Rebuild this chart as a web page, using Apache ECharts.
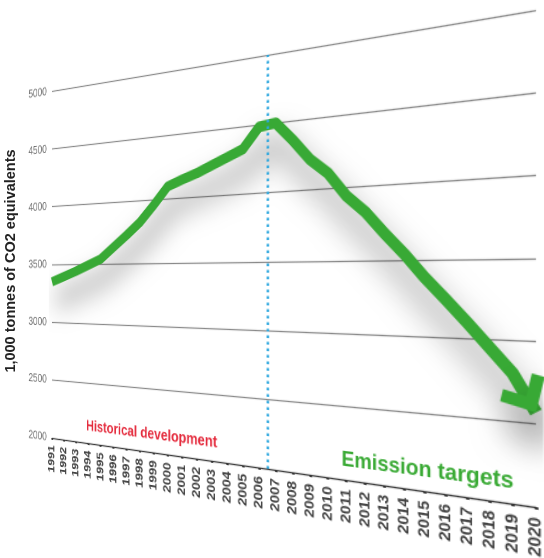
<!DOCTYPE html>
<html>
<head>
<meta charset="utf-8">
<script src="https://cdn.jsdelivr.net/npm/echarts@6/dist/echarts.min.js"></script>
<style>
  html, body { margin: 0; padding: 0; width: 544px; height: 558px; overflow: hidden; background: #fff; }
  #side { position: absolute; left: 0; top: 0; width: 544px; height: 558px; }
  #plane { position: absolute; left: 0; top: 0; width: 600px; height: 540px; transform-origin: 0 0; }
</style>
</head>
<body>
<div id="side"></div>
<div id="plane"></div>
<script>
// Annual emissions, 1,000 tonnes of CO2 equivalents (history up to 2007, targets afterwards)
const years = [1991, 1992, 1993, 1994, 1995, 1996, 1997, 1998, 1999, 2000,
               2001, 2002, 2003, 2004, 2005, 2006, 2007, 2008, 2009, 2010,
               2011, 2012, 2013, 2014, 2015, 2016, 2017, 2018, 2019, 2020];
const emissions = [3350, 3395, 3440, 3490, 3540, 3635, 3730, 3830, 3960, 4100,
                   4145, 4185, 4235, 4285, 4335, 4485, 4500, 4365, 4215, 4110,
                   3945, 3830, 3680, 3540, 3385, 3245, 3100, 2950, 2800, 2570];
const yTicks = [2000, 2500, 3000, 3500, 4000, 4500, 5000];
const splitYear = 2006.5;
const labels = [
  { name: 'Historical development', coord: [1998.6, 2140] },
  { name: 'Emission targets', coord: [2014.9, 2135] }
];
const yTitle = '1,000 tonnes of CO2 equivalents';

// Flat chart layout (before the perspective tilt)
const GRID = { left: 60, top: 30, width: 520, height: 380 };
// Where the grid corners land on the page after tilting
const SRC = [[GRID.left, GRID.top], [GRID.left + GRID.width, GRID.top],
             [GRID.left + GRID.width, GRID.top + GRID.height], [GRID.left, GRID.top + GRID.height]];
const DST = [[52, 91], [536, 10], [536, 507], [52, 438]];

function solveLinear(A, b) {
  const n = b.length;
  const M = A.map((row, i) => row.concat([b[i]]));
  for (let c = 0; c < n; c++) {
    let p = c;
    for (let r = c + 1; r < n; r++) if (Math.abs(M[r][c]) > Math.abs(M[p][c])) p = r;
    [M[c], M[p]] = [M[p], M[c]];
    for (let r = 0; r < n; r++) {
      if (r === c) continue;
      const f = M[r][c] / M[c][c];
      for (let k = c; k <= n; k++) M[r][k] -= f * M[c][k];
    }
  }
  return M.map((row, i) => row[n] / row[i]);
}

function perspectiveMatrix(src, dst) {
  const A = [], b = [];
  for (let i = 0; i < 4; i++) {
    const [x, y] = src[i], [X, Y] = dst[i];
    A.push([x, y, 1, 0, 0, 0, -X * x, -X * y]); b.push(X);
    A.push([0, 0, 0, x, y, 1, -Y * x, -Y * y]); b.push(Y);
  }
  const h = solveLinear(A, b);
  return 'matrix3d(' + [h[0], h[3], 0, h[6], h[1], h[4], 0, h[7], 0, 0, 1, 0, h[2], h[5], 0, 1].join(',') + ')';
}

document.getElementById('plane').style.transform = perspectiveMatrix(SRC, DST);

const GREEN = '#38a935';
const FONT = '"Liberation Sans", Arial, sans-serif';
const ARROW = 'path://M0,20 L20,0 L40,20 L33,27 L20,14 L7,27 Z';
const SHADOW = { shadowColor: 'rgba(0,0,0,0.55)', shadowBlur: 30, shadowOffsetX: 5, shadowOffsetY: 20 };

function buildOption(arrow) {
  const data = years.map((y, i) => [y, emissions[i]]);
  if (arrow) {
    const last = data.length - 1;
    data[last] = {
      value: data[last],
      symbol: ARROW,
      symbolSize: [40, 27],
      symbolKeepAspect: false,
      symbolRotate: arrow.rotate,
      symbolOffset: arrow.offset,
      itemStyle: Object.assign({ color: GREEN }, SHADOW)
    };
  }
  return {
    animation: false,
    backgroundColor: 'transparent',
    grid: { left: GRID.left, top: GRID.top, width: GRID.width, height: GRID.height, containLabel: false },
    xAxis: {
      type: 'value',
      min: years[0],
      max: years[years.length - 1],
      interval: 1,
      axisLine: { show: true, lineStyle: { color: '#3a3a3a', width: 1.3 } },
      axisTick: { show: true, length: 2, lineStyle: { color: '#333', width: 2.6 } },
      splitLine: { show: false },
      axisLabel: {
        rotate: 90, margin: 8, color: '#404040', fontSize: 13.5, fontWeight: 'bold', fontFamily: FONT,
        formatter: v => String(v)
      }
    },
    yAxis: {
      type: 'value',
      min: yTicks[0],
      max: yTicks[yTicks.length - 1],
      interval: yTicks[1] - yTicks[0],
      axisLine: { show: false },
      axisTick: { show: false },
      splitLine: { show: true, lineStyle: { color: '#8a8a8a', width: 1.2 } },
      axisLabel: { margin: 8, color: '#6a6a6a', fontSize: 13, fontFamily: FONT, formatter: v => String(v) }
    },
    series: [{
      type: 'line',
      data: data,
      symbol: 'none',
      showSymbol: true,
      lineStyle: Object.assign({ color: GREEN, width: 10, join: 'round' }, SHADOW),
      itemStyle: { color: GREEN },
      markLine: {
        silent: true,
        symbol: 'none',
        label: { show: false },
        lineStyle: { color: '#2aa6de', width: 2.6, type: [2.5, 3.5] },
        data: [{ xAxis: splitYear }]
      },
      markPoint: {
        silent: true,
        symbol: 'circle',
        symbolSize: 0,
        data: labels.map((d, i) => ({
          name: d.name,
          coord: d.coord,
          label: {
            show: true, position: 'inside', formatter: '{b}', fontFamily: FONT, fontWeight: 'bold',
            color: i === 0 ? '#e42a3c' : '#3aaa35',
            fontSize: i === 0 ? 15.5 : 18.5
          }
        }))
      }
    }]
  };
}

const plane = echarts.init(document.getElementById('plane'), null, { renderer: 'canvas', devicePixelRatio: 2 });
plane.setOption(buildOption(null));

// Point the arrowhead along the last segment, with its tip on the final value
const n = years.length;
const pA = plane.convertToPixel({ gridIndex: 0 }, [years[n - 2], emissions[n - 2]]);
const pB = plane.convertToPixel({ gridIndex: 0 }, [years[n - 1], emissions[n - 1]]);
const dx = pB[0] - pA[0], dy = pB[1] - pA[1], len = Math.hypot(dx, dy);
plane.setOption(buildOption({
  rotate: Math.atan2(-dx, -dy) * 180 / Math.PI,
  offset: [-dx / len * 13.5, -dy / len * 13.5]
}), true);

const side = echarts.init(document.getElementById('side'), null, { renderer: 'canvas' });
side.setOption({
  animation: false,
  backgroundColor: '#ffffff',
  graphic: [{
    type: 'text',
    x: 11,
    y: 261,
    rotation: Math.PI / 2,
    style: {
      text: yTitle,
      font: 'bold 14.5px ' + FONT,
      fill: '#222222',
      align: 'center',
      verticalAlign: 'middle'
    }
  }]
});
</script>
</body>
</html>
